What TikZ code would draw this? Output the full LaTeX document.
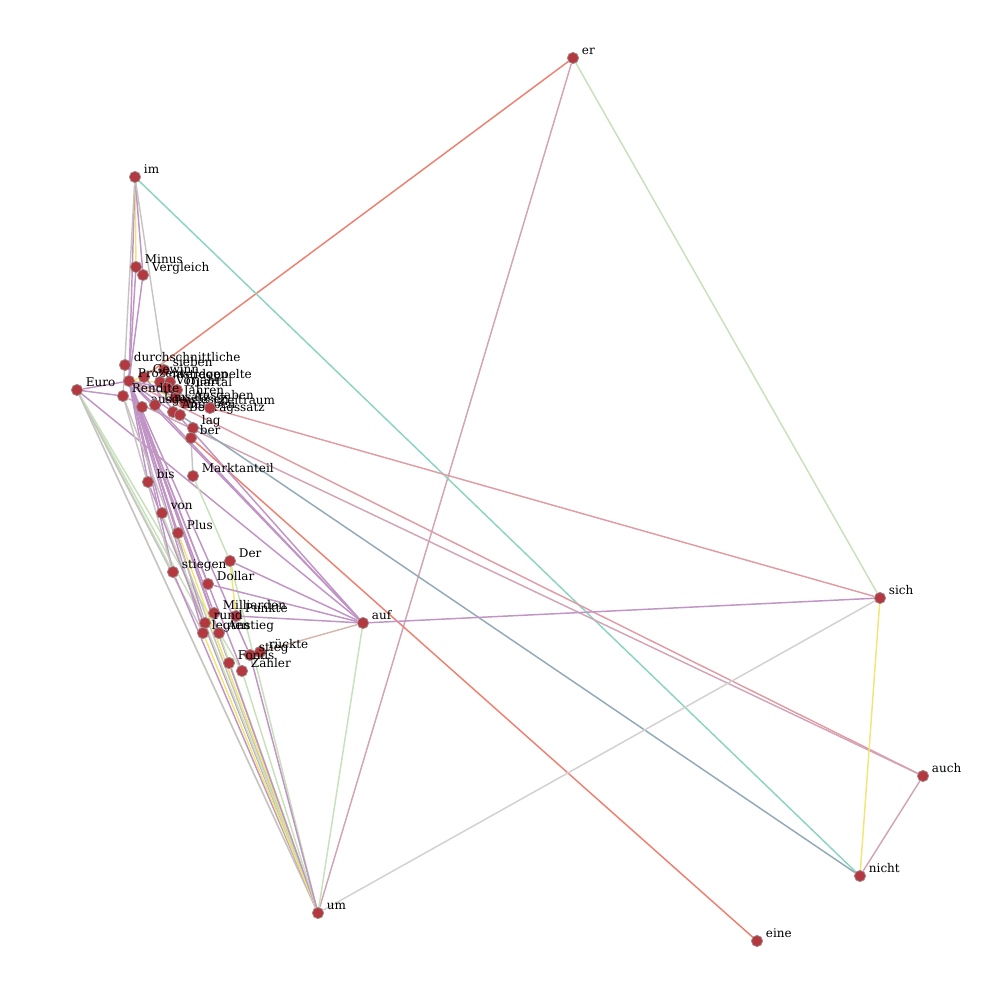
\documentclass[tikz,border=0pt]{standalone}
\usepackage{fontspec}
\setmainfont{DejaVu Serif}
\usetikzlibrary{backgrounds}
\definecolor{vfill}{HTML}{B3383F}
\definecolor{vline}{HTML}{A08888}
\definecolor{pu}{HTML}{C094C4}
\definecolor{gr}{HTML}{C8E0BC}
\definecolor{ye}{HTML}{F0E678}
\definecolor{gy}{HTML}{C8C4C4}
\definecolor{lg}{HTML}{D4D0D2}
\definecolor{sa}{HTML}{EE8070}
\definecolor{pk}{HTML}{E09CA4}
\definecolor{mv}{HTML}{D2A4B6}
\definecolor{te}{HTML}{8CD4C2}
\definecolor{bl}{HTML}{92AAB8}
\definecolor{tn}{HTML}{D4B8AC}
\tikzset{
  vtx/.style={circle,fill=vfill,draw=vline,line width=0.6pt,minimum size=8.4pt,inner sep=0pt},
  lbl/.style={font=\fontsize{9}{10}\selectfont,inner sep=0pt,anchor=base west,yshift=2.6pt},
  every label/.style={lbl},
  label distance=2pt
}
\begin{document}
\begin{tikzpicture}[x=0.75pt,y=-0.75pt]
      \useasboundingbox (0,0) rectangle (1000,1000);
      \path
        (573,58) node[vtx,label=right:er] (er){}
        (135,177) node[vtx,label=right:im] (im){}
        (136,267) node[vtx,label=right:Minus] (Minus){}
        (143,275) node[vtx,label=right:Vergleich] (Vergleich){}
        (125,365) node[vtx,label=right:durchschnittliche] (durchschn){}
        (77,390) node[vtx,label=right:Euro] (Euro){}
        (164,370) node[vtx,label=right:sieben] (sieben){}
        (144,377) node[vtx,label=right:Gewinn] (Gewinn){}
        (129,381) node[vtx,label=right:Prozent] (Prozent){}
        (160,382) node[vtx,label=right:gestiegen] (gestiegen){}
        (170,382) node[vtx,label=right:verdoppelte] (verdoppelte){}
        (167,388) node[vtx,label=right:Vorjahr] (Vorjahr){}
        (177,390) node[vtx,label=right:Quartal] (Quartal){}
        (123,396) node[vtx,label=right:Rendite] (Rendite){}
        (175,398) node[vtx,label=right:Jahren] (Jahren){}
        (185,403) node[vtx,label=right:Ausgaben] (Ausgaben){}
        (142,407) node[vtx,label=right:ausgewiesen] (ausgewiesen){}
        (155,405) node[vtx,label=right:Umsatz] (Umsatz){}
        (173,412) node[vtx,label=right:Angaben] (Angaben){}
        (180,415) node[vtx,label=right:Beitragssatz] (Beitragssatz){}
        (210,408) node[vtx,label=right:Zeitraum] (Zeitraum){}
        (193,428) node[vtx,label=right:lag] (lag){}
        (191,438) node[vtx,label=right:ber] (ber){}
        (148,482) node[vtx,label=right:bis] (bis){}
        (193,476) node[vtx,label=right:Marktanteil] (Marktanteil){}
        (162,513) node[vtx,label=right:von] (von){}
        (178,533) node[vtx,label=right:Plus] (Plus){}
        (230,561) node[vtx,label=right:Der] (Der){}
        (173,572) node[vtx,label=right:stiegen] (stiegen){}
        (208,584) node[vtx,label=right:Dollar] (Dollar){}
        (214,613) node[vtx,label=right:Milliarden] (Milliarden){}
        (236,616) node[vtx,label=right:Punkte] (Punkte){}
        (205,623) node[vtx,label=right:rund] (rund){}
        (203,633) node[vtx,label=right:legten] (legten){}
        (219,633) node[vtx,label=right:Anstieg] (Anstieg){}
        (260,652) node[vtx,label=right:rückte] (rueckte){}
        (250,655) node[vtx,label=right:stieg] (stieg){}
        (229,663) node[vtx,label=right:Fonds] (Fonds){}
        (242,671) node[vtx,label=right:Zähler] (zaehler){}
        (363,623) node[vtx,label=right:auf] (auf){}
        (880,598) node[vtx,label=right:sich] (sich){}
        (923,776) node[vtx,label=right:auch] (auch){}
        (860,876) node[vtx,label=right:nicht] (nicht){}
        (318,913) node[vtx,label=right:um] (um){}
        (757,941) node[vtx,label=right:eine] (eine){};
      \begin{scope}[on background layer]
      \begin{scope}[line width=1.1pt]
        \draw[sa] (er) to (Gewinn);
        \draw[mv] (er) to (um);
        \draw[gr] (er) to (sich);
        \draw[te] (im) to (nicht);
        \draw[ye] (im) to (Minus);
        \draw[pu] (im) to (Vergleich);
        \draw[pu] (im) to (Prozent);
        \draw[gy] (im) to (sieben);
        \draw[gy] (im) to (Rendite);
        \draw[pu] (Minus) to (Prozent);
        \draw[pu] (Vergleich) to (Prozent);
        \draw[pu] (Euro) to (Prozent);
        \draw[pu] (Euro) to (Rendite);
        \draw[gr] (Euro) to (um);
        \draw[gr] (Euro) to (stiegen);
        \draw[gr] (Euro) to (rund);
        \draw[gy] (Euro) to (legten);
        \draw[pu] (Euro) to (auf);
        \draw[gr] (Euro) to (zaehler);
        \draw[gy] (Euro) to (um);
        \draw[pk] (Prozent) to (auch);
        \draw[mv] (Rendite) to (auch);
        \draw[pk] (Zeitraum) to (sich);
        \draw[sa] (ber) to (eine);
        \draw[bl] (Beitragssatz) to (nicht);
        \draw[gy] (Marktanteil) to (ber);
        \draw[gr] (Marktanteil) to (Der);
        \draw[ye] (Prozent) to (Gewinn);
        \draw[ye] (Prozent) to (gestiegen);
        \draw[ye] (Prozent) to (Jahren);
        \draw[pu] (Prozent) to (Quartal);
        \draw[pu] (Prozent) to (Umsatz);
        \draw[pu] (Prozent) to (Angaben);
        \draw[pu] (Prozent) to (Zeitraum);
        \draw[ye] (Prozent) to (um);
        \draw[pu] (Prozent) to (bis);
        \draw[pu] (Prozent) to (von);
        \draw[pu] (Prozent) to (Plus);
        \draw[pu] (Prozent) to (stiegen);
        \draw[pu] (Prozent) to (Dollar);
        \draw[pu] (Prozent) to (rund);
        \draw[pu] (Prozent) to (legten);
        \draw[pu] (Prozent) to (Anstieg);
        \draw[pu] (Prozent) to (stieg);
        \draw[pu] (Prozent) to (zaehler);
        \draw[pu] (Prozent) to (Fonds);
        \draw[pu] (Prozent) to (Milliarden);
        \draw[pu] (Prozent) to (auf);
        \draw[pu] (Gewinn) to (auf);
        \draw[pu] (Umsatz) to (auf);
        \draw[gy] (Rendite) to (um);
        \draw[gy] (Rendite) to (stiegen);
        \draw[gr] (Der) to (um);
        \draw[pu] (Der) to (auf);
        \draw[ye] (Der) to (Punkte);
        \draw[pu] (Dollar) to (auf);
        \draw[pu] (Punkte) to (auf);
        \draw[tn] (rueckte) to (auf);
        \draw[ye] (Plus) to (um);
        \draw[pu] (stiegen) to (um);
        \draw[gr] (von) to (um);
        \draw[pu] (bis) to (um);
        \draw[gr] (rund) to (um);
        \draw[ye] (legten) to (um);
        \draw[gr] (Anstieg) to (um);
        \draw[pu] (Fonds) to (um);
        \draw[gr] (zaehler) to (um);
        \draw[pu] (stieg) to (um);
        \draw[pu] (sich) to (auf);
        \draw[lg] (sich) to (um);
        \draw[ye] (sich) to (nicht);
        \draw[mv] (auch) to (nicht);
        \draw[gr] (auf) to (um);
      \end{scope}
      \end{scope}
    \end{tikzpicture}
\end{document}
